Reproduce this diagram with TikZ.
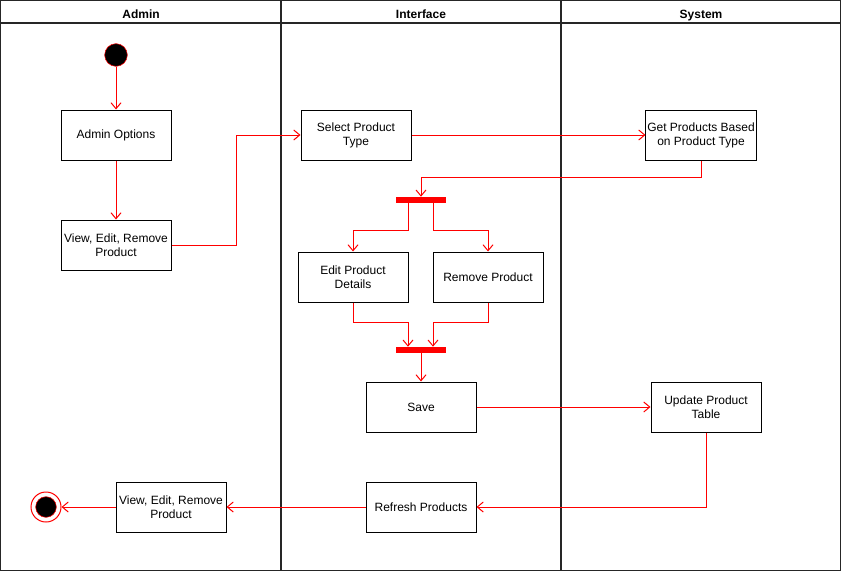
\documentclass[tikz,border=0pt]{standalone}
\usepackage{fontspec}
\setmainfont{Liberation Sans}
\usetikzlibrary{arrows.meta}

\tikzset{
  action/.style={draw, line width=.75pt, minimum width=82.5pt, minimum height=37.5pt, align=center, inner sep=1pt},
  flow/.style={draw=red, line width=.75pt, -{Straight Barb[length=4.5pt,width=7.5pt]}},
  bar/.style={fill=red, minimum width=37.5pt, minimum height=4.5pt, inner sep=0pt},
  lane/.style={line width=1.2pt, black!85},
  title/.style={anchor=base, font=\fontsize{9}{10.5}\selectfont\bfseries},
}

\begin{document}
\begin{tikzpicture}[x=.75pt, y=-.75pt, font=\fontsize{9}{10.5}\selectfont]
  \useasboundingbox (0,0) rectangle (841,571);
  % swimlanes
  \draw [lane] (0.6,0.6) rectangle (840.4,570.4);
  \draw [lane] (0,23) -- (841,23);
  \draw [lane] (281,0) -- (281,571);
  \draw [lane] (561,0) -- (561,571);
  \node [title] (hadmin) at (141,18) {Admin};
  \node [title] (hface) at (421,18) {Interface};
  \node [title] (hsys) at (701,18) {System};

  % start and end
  \node [circle, draw=red, fill=black, minimum size=17pt, inner sep=0pt] (start) at (116,55) {};
  \node [circle, draw=red, line width=.75pt, minimum size=22.5pt, inner sep=0pt] (end) at (46,507) {};
  \node [circle, draw=red, fill=black, minimum size=15.5pt, inner sep=0pt] (enddot) at (end) {};

  % actions
  \node [action] (options) at (116,135) {Admin Options};
  \node [action] (view) at (116,245) {View, Edit, Remove\\Product};
  \node [action] (select) at (356,135) {Select Product\\Type};
  \node [action] (get) at (701,135) {Get Products Based\\on Product Type};
  \node [bar] (fork) at (421,200) {};
  \node [action] (edit) at (353,277) {Edit Product\\Details};
  \node [action] (remove) at (488,277) {Remove Product};
  \node [bar] (join) at (421,350) {};
  \node [action] (save) at (421,407) {Save};
  \node [action] (update) at (706,407) {Update Product\\Table};
  \node [action] (refresh) at (421,507) {Refresh Products};
  \node [action] (viewb) at (171,507) {View, Edit, Remove\\Product};

  % flows
  \draw [flow] (start) -- (options);
  \draw [flow] (options) -- (view);
  \draw [flow] (view.east) -- ++(65,0) |- (select.west);
  \draw [flow] (select) -- (get);
  \draw [flow] (get.south) -- ++(0,17) -| (fork.north);
  \draw [flow] ([xshift=-9.75pt]fork.south) -- ++(0,27) -| (edit.north);
  \draw [flow] ([xshift=9pt]fork.south) -- ++(0,27) -| (remove.north);
  \draw [flow] (edit.south) -- ++(0,20) -| ([xshift=-9.75pt]join.north);
  \draw [flow] (remove.south) -- ++(0,20) -| ([xshift=9pt]join.north);
  \draw [flow] (join) -- (save);
  \draw [flow] (save) -- (update);
  \draw [flow] (update.south) |- (refresh.east);
  \draw [flow] (refresh) -- (viewb);
  \draw [flow] (viewb) -- (end);
\end{tikzpicture}
\end{document}
